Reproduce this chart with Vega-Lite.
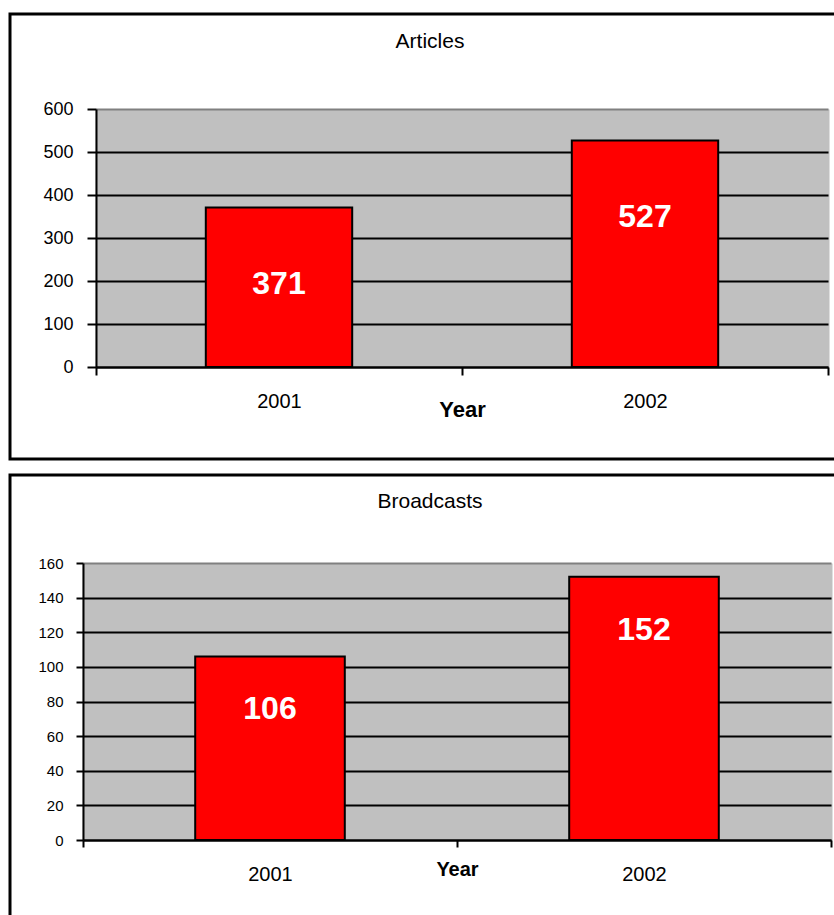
{
  "$schema": "https://vega.github.io/schema/vega-lite/v6.json",
  "padding": {"left": 8, "top": 12, "right": 0, "bottom": 0},
  "spacing": 12,
  "config": {
    "font": "Liberation Sans",
    "view": {"stroke": "black", "strokeWidth": 3},
    "axis": {"domainColor": "black", "domainWidth": 2, "tickColor": "black", "tickWidth": 2, "labelColor": "black", "titleColor": "black", "labelFont": "Liberation Sans", "titleFont": "Liberation Sans"},
    "title": {"color": "black", "fontWeight": "normal", "anchor": "middle", "font": "Liberation Sans"}
  },
  "vconcat": [
    {
      "width": 840,
      "height": 445,
      "title": {"text": "Articles", "fontSize": 21, "offset": -55, "baseline": "alphabetic", "frame": "group"},
      "data": {"values": [{"Year": "2001", "Count": 371}, {"Year": "2002", "Count": 527}]},
      "resolve": {"axis": {"x": "independent"}},
      "layer": [
        {
          "mark": {"type": "bar", "fill": "#FF0000", "stroke": "black", "strokeWidth": 2, "width": {"band": 0.4}},
          "encoding": {
            "x": {
              "field": "Year", "type": "nominal",
              "scale": {"range": [86, 818], "paddingInner": 0, "paddingOuter": 0},
              "axis": {"title": "Year", "labelAngle": 0, "orient": "bottom", "offset": -92, "tickBand": "extent", "tickSize": 8, "labelFontSize": 20, "labelPadding": 16, "titleFontSize": 22, "titleFontWeight": "bold", "titleY": 49, "titleBaseline": "alphabetic", "grid": false}
            },
            "y": {
              "field": "Count", "type": "quantitative",
              "scale": {"domain": [0, 600], "range": [353, 95], "nice": false, "zero": true},
              "axis": {"title": null, "orient": "left", "offset": -86, "values": [0, 100, 200, 300, 400, 500, 600], "grid": true, "gridColor": {"condition": {"test": "datum.value === 600", "value": "#808080"}, "value": "black"}, "gridWidth": 2, "tickSize": 9, "labelFontSize": 18, "labelPadding": 14}
            }
          }
        },
        {
          "mark": {"type": "text", "color": "white", "fontWeight": "bold", "fontSize": 32, "dy": 77, "baseline": "middle"},
          "encoding": {
            "x": {
              "field": "Year", "type": "nominal",
              "axis": {"orient": "top", "title": null, "domain": false, "ticks": false, "labels": false, "grid": true, "tickBand": "center", "bandPosition": 0.5, "gridColor": "#C0C0C0", "gridWidth": 368, "gridCap": "butt", "gridOpacity": 1}
            },
            "y": {"field": "Count", "type": "quantitative"},
            "text": {"field": "Count", "type": "quantitative"}
          }
        }
      ]
    },
    {
      "width": 840,
      "height": 450,
      "title": {"text": "Broadcasts", "fontSize": 21, "offset": -54, "baseline": "alphabetic", "frame": "group"},
      "data": {"values": [{"Year": "2001", "Count": 106}, {"Year": "2002", "Count": 152}]},
      "resolve": {"axis": {"x": "independent"}},
      "layer": [
        {
          "mark": {"type": "bar", "fill": "#FF0000", "stroke": "black", "strokeWidth": 2, "width": {"band": 0.4}},
          "encoding": {
            "x": {
              "field": "Year", "type": "nominal",
              "scale": {"range": [73, 821], "paddingInner": 0, "paddingOuter": 0},
              "axis": {"title": "Year", "labelAngle": 0, "orient": "bottom", "offset": -85, "tickBand": "extent", "tickSize": 7, "labelFontSize": 20, "labelPadding": 17, "titleFontSize": 20, "titleFontWeight": "bold", "titleY": 35, "titleBaseline": "alphabetic", "grid": false}
            },
            "y": {
              "field": "Count", "type": "quantitative",
              "scale": {"domain": [0, 160], "range": [365, 88], "nice": false, "zero": true},
              "axis": {"title": null, "orient": "left", "offset": -73, "values": [0, 20, 40, 60, 80, 100, 120, 140, 160], "grid": true, "gridColor": {"condition": {"test": "datum.value === 160", "value": "#808080"}, "value": "black"}, "gridWidth": 2, "tickSize": 7, "labelFontSize": 15, "labelPadding": 13}
            }
          }
        },
        {
          "mark": {"type": "text", "color": "white", "fontWeight": "bold", "fontSize": 32, "dy": 53, "baseline": "middle"},
          "encoding": {
            "x": {
              "field": "Year", "type": "nominal",
              "axis": {"orient": "top", "title": null, "domain": false, "ticks": false, "labels": false, "grid": true, "tickBand": "center", "bandPosition": 0.5, "gridColor": "#C0C0C0", "gridWidth": 376, "gridCap": "butt", "gridOpacity": 1}
            },
            "y": {"field": "Count", "type": "quantitative"},
            "text": {"field": "Count", "type": "quantitative"}
          }
        }
      ]
    }
  ]
}
